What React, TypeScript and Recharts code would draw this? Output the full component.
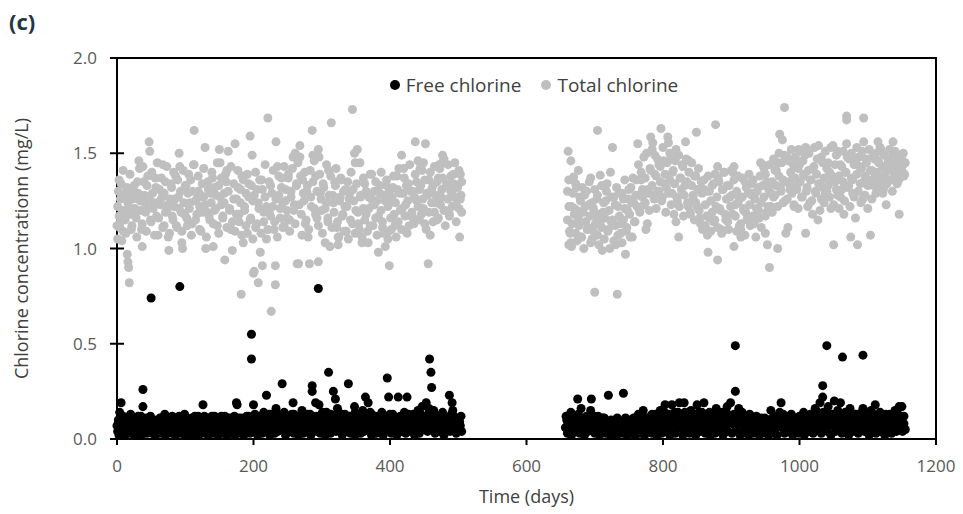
import {
  ScatterChart, Scatter, XAxis, YAxis, ZAxis, Legend, Label, ReferenceArea
} from 'recharts'

// [day, mg/L], first run (0–505 d) and second run (657–1155 d)
const freeChlorineA: [number, number][] = [
  [1,0.04],[2,0.10],[3,0.02],[4,0.14],[5,0.06],[6,0.19],[7,0.03],[8,0.08],[9,0.12],[10,0.05],[12,0.02],[13,0.09],[14,0.06],[16,0.11],[17,0.03],[19,0.07],[20,0.13],[22,0.04],[23,0.09],[25,0.02],[27,0.06],[28,0.11],[30,0.03],[31,0.08],[33,0.05],[35,0.12],[36,0.02],[38,0.26],[38,0.17],[39,0.07],[41,0.04],[42,0.10],[44,0.03],[46,0.08],[47,0.05],[49,0.12],[50,0.74],[51,0.03],[53,0.07],[55,0.10],[56,0.02],[58,0.06],[60,0.09],[61,0.04],[63,0.11],[65,0.03],[66,0.07],[68,0.05],[70,0.13],[71,0.02],[73,0.08],[75,0.04],[76,0.10],[78,0.06],[80,0.03],[81,0.12],[83,0.05],[85,0.08],[86,0.02],[88,0.11],[90,0.04],[92,0.80],[92,0.07],[94,0.03],[95,0.10],[97,0.05],[99,0.13],[100,0.02],
  [102,0.07],[104,0.04],[105,0.09],[107,0.06],[109,0.02],[110,0.11],[112,0.04],[114,0.08],[115,0.03],[117,0.06],[119,0.12],[120,0.02],[122,0.07],[124,0.04],[126,0.18],[127,0.09],[129,0.03],[131,0.06],[132,0.11],[134,0.02],[136,0.08],[137,0.05],[139,0.12],[141,0.03],[143,0.07],[144,0.10],[146,0.04],[148,0.02],[149,0.09],[151,0.06],[153,0.12],[154,0.03],[156,0.07],[158,0.04],[159,0.10],[161,0.02],[163,0.08],[165,0.05],[166,0.11],[168,0.03],[170,0.06],[172,0.09],[173,0.02],[175,0.19],[176,0.18],[177,0.05],[179,0.08],[181,0.03],[182,0.11],[184,0.06],[186,0.02],[188,0.09],[189,0.04],[191,0.07],[193,0.12],[195,0.03],[197,0.55],[197,0.42],[198,0.06],[200,0.18],
  [201,0.10],[203,0.04],[205,0.08],[206,0.02],[208,0.12],[210,0.05],[212,0.09],[213,0.03],[215,0.14],[217,0.06],[219,0.23],[219,0.11],[221,0.04],[222,0.08],[224,0.02],[226,0.13],[228,0.06],[229,0.10],[231,0.03],[233,0.16],[235,0.07],[236,0.04],[238,0.12],[240,0.09],[242,0.29],[243,0.05],[245,0.14],[247,0.02],[248,0.08],[250,0.11],[252,0.04],[254,0.07],[256,0.13],[258,0.19],[259,0.03],[261,0.09],[263,0.06],[264,0.12],[266,0.02],[268,0.08],[270,0.05],[271,0.15],[273,0.03],[275,0.10],[277,0.07],[279,0.13],[280,0.04],[282,0.09],[284,0.02],[286,0.28],[286,0.25],[287,0.06],[289,0.11],[291,0.19],[293,0.04],[295,0.79],[295,0.08],[296,0.18],[298,0.03],[300,0.12],
  [302,0.06],[303,0.10],[305,0.02],[307,0.14],[309,0.05],[310,0.35],[311,0.09],[313,0.03],[315,0.12],[317,0.25],[318,0.07],[320,0.21],[321,0.04],[323,0.16],[325,0.10],[326,0.06],[328,0.13],[330,0.02],[332,0.08],[334,0.11],[335,0.04],[337,0.07],[339,0.29],[340,0.12],[342,0.03],[344,0.09],[346,0.06],[348,0.17],[349,0.02],[351,0.10],[353,0.05],[355,0.13],[357,0.03],[358,0.08],[360,0.15],[362,0.04],[364,0.22],[366,0.11],[368,0.19],[369,0.06],[371,0.14],[373,0.02],[375,0.09],[377,0.05],[379,0.12],[380,0.03],[382,0.07],[384,0.10],[386,0.04],[388,0.14],[390,0.02],[392,0.08],[394,0.11],[396,0.32],[397,0.05],[398,0.22],[400,0.09],
  [402,0.03],[404,0.13],[406,0.06],[408,0.10],[410,0.02],[412,0.22],[413,0.07],[415,0.12],[417,0.04],[419,0.09],[421,0.14],[423,0.03],[425,0.22],[426,0.06],[428,0.11],[430,0.04],[432,0.08],[434,0.13],[436,0.02],[438,0.10],[440,0.06],[441,0.15],[443,0.03],[445,0.08],[447,0.17],[449,0.05],[451,0.11],[453,0.19],[455,0.04],[456,0.13],[458,0.42],[458,0.09],[460,0.35],[461,0.27],[462,0.06],[464,0.15],[466,0.03],[468,0.10],[469,0.07],[471,0.12],[473,0.04],[475,0.09],[477,0.14],[479,0.02],[481,0.06],[483,0.11],[485,0.08],[487,0.23],[488,0.04],[490,0.13],[491,0.19],[492,0.15],[494,0.06],[496,0.10],[497,0.03],[499,0.08],[501,0.05],[503,0.07],[505,0.04],
]

// more first-run free chlorine readings inside the dense 0.05–0.14 band
const freeChlorineA2: [number, number][] = [
  [0,0.07],[3,0.09],[6,0.05],[9,0.03],[11,0.08],[14,0.11],[17,0.06],[20,0.04],[22,0.10],[25,0.07],[28,0.05],[31,0.12],[34,0.06],[37,0.09],[40,0.05],[43,0.11],[46,0.04],[48,0.08],[52,0.10],[54,0.05],[57,0.09],[60,0.03],[62,0.07],[65,0.11],[68,0.08],[71,0.06],[74,0.10],[77,0.04],[80,0.09],[83,0.11],[86,0.06],[89,0.08],[91,0.12],[94,0.07],[97,0.09],[100,0.05],[103,0.11],[106,0.08],[108,0.05],[111,0.09],[114,0.12],[117,0.09],[120,0.06],[123,0.10],[126,0.05],[128,0.12],[131,0.09],[134,0.07],[137,0.10],[140,0.06],[143,0.12],[146,0.08],[149,0.05],[152,0.10],[155,0.07],[158,0.12],[160,0.06],[163,0.11],[166,0.08],[169,0.05],[172,0.12],[175,0.09],[178,0.11],[181,0.07],[184,0.10],[187,0.06],[190,0.12],[193,0.08],[196,0.10],[199,0.05],
  [202,0.13],[205,0.11],[208,0.07],[211,0.12],[214,0.09],[217,0.11],[220,0.07],[223,0.13],[226,0.09],[229,0.05],[232,0.11],[235,0.13],[238,0.08],[241,0.11],[244,0.07],[247,0.12],[250,0.06],[253,0.10],[256,0.08],[259,0.13],[262,0.11],[265,0.07],[268,0.12],[271,0.09],[274,0.06],[277,0.11],[280,0.08],[283,0.13],[286,0.10],[289,0.07],[292,0.12],[295,0.11],[298,0.09],[301,0.14],[304,0.08],[307,0.11],[310,0.06],[313,0.13],[316,0.09],[319,0.12],[322,0.08],[325,0.14],[328,0.10],[331,0.06],[334,0.13],[337,0.10],[340,0.07],[343,0.12],[346,0.10],[349,0.14],[352,0.08],[355,0.11],[358,0.13],[361,0.09],[364,0.12],[367,0.07],[370,0.10],[373,0.13],[376,0.08],[379,0.06],[382,0.11],[385,0.09],[388,0.07],[391,0.12],[394,0.06],[397,0.10],[400,0.13],
  [403,0.08],[406,0.11],[409,0.07],[412,0.10],[415,0.06],[418,0.12],[421,0.09],[424,0.07],[427,0.13],[430,0.10],[433,0.06],[436,0.12],[439,0.08],[442,0.11],[445,0.13],[448,0.09],[451,0.07],[454,0.12],[457,0.16],[460,0.10],[463,0.12],[466,0.08],[469,0.11],[472,0.07],[475,0.12],[478,0.09],[481,0.11],[484,0.06],[487,0.10],[490,0.08],[493,0.12],[496,0.07],[499,0.11],[502,0.09],[504,0.12],
]

const freeChlorineB: [number, number][] = [
  [657,0.06],[658,0.12],[660,0.03],[661,0.09],[663,0.05],[665,0.14],[666,0.02],[668,0.08],[670,0.11],[671,0.04],[673,0.07],[675,0.21],[676,0.13],[678,0.03],[680,0.16],[681,0.06],[683,0.10],[685,0.02],[686,0.08],[688,0.12],[690,0.04],[692,0.07],[694,0.15],[695,0.21],[697,0.05],[699,0.10],[700,0.03],[702,0.08],[704,0.06],[705,0.12],[707,0.02],[709,0.09],[711,0.04],[712,0.07],[714,0.11],[716,0.03],[718,0.06],[720,0.23],[721,0.09],[723,0.02],[725,0.05],[726,0.08],[728,0.04],[730,0.10],[732,0.02],[733,0.07],[735,0.05],[737,0.09],[739,0.03],[740,0.06],[742,0.24],[743,0.04],[745,0.08],[747,0.02],[749,0.05],[750,0.09],[752,0.03],[754,0.07],[756,0.04],[757,0.11],[759,0.02],
  [761,0.08],[763,0.05],[764,0.13],[766,0.03],[768,0.10],[770,0.06],[771,0.15],[773,0.02],[775,0.08],[777,0.11],[778,0.04],[780,0.07],[782,0.12],[784,0.03],[785,0.09],[787,0.06],[789,0.13],[791,0.02],[792,0.10],[794,0.05],[796,0.15],[798,0.03],[799,0.08],[801,0.11],[803,0.18],[804,0.04],[806,0.09],[808,0.13],[810,0.02],[811,0.07],[813,0.18],[815,0.05],[817,0.11],[818,0.03],[820,0.08],[822,0.14],[824,0.19],[825,0.06],[827,0.10],[829,0.02],[831,0.19],[832,0.09],[834,0.04],[836,0.12],[838,0.07],[839,0.03],[841,0.15],[843,0.10],[845,0.05],[846,0.13],[848,0.02],[850,0.18],[852,0.08],[853,0.11],[855,0.04],[857,0.14],[859,0.07],[860,0.19],
  [862,0.03],[864,0.10],[866,0.06],[867,0.13],[869,0.02],[871,0.09],[873,0.05],[874,0.12],[876,0.03],[878,0.16],[880,0.08],[881,0.04],[883,0.11],[885,0.06],[887,0.14],[888,0.02],[890,0.09],[892,0.07],[894,0.17],[895,0.04],[897,0.12],[899,0.19],[901,0.03],[902,0.08],[904,0.13],[906,0.49],[906,0.25],[907,0.05],[909,0.10],[911,0.16],[913,0.02],[915,0.08],[916,0.14],[918,0.04],[920,0.11],[922,0.06],[923,0.09],[925,0.02],[927,0.13],[929,0.05],[930,0.08],[932,0.03],[934,0.10],[936,0.06],[937,0.04],[939,0.09],[941,0.02],[943,0.07],[944,0.11],[946,0.04],[948,0.08],[950,0.03],[951,0.06],[953,0.10],[955,0.02],[957,0.07],[958,0.15],[960,0.04],
  [962,0.09],[964,0.05],[965,0.12],[967,0.02],[969,0.08],[971,0.14],[973,0.19],[974,0.06],[976,0.10],[978,0.03],[979,0.07],[981,0.12],[983,0.04],[985,0.09],[986,0.05],[988,0.11],[990,0.02],[992,0.07],[993,0.04],[995,0.09],[997,0.06],[999,0.03],[1000,0.10],[1002,0.05],[1004,0.08],[1006,0.14],[1007,0.02],[1009,0.11],[1011,0.06],[1013,0.09],[1014,0.04],[1016,0.13],[1018,0.07],[1020,0.03],[1021,0.10],[1023,0.16],[1025,0.05],[1027,0.12],[1028,0.08],[1030,0.19],[1032,0.03],[1034,0.28],[1034,0.22],[1035,0.14],[1037,0.06],[1039,0.11],[1040,0.49],[1041,0.04],[1042,0.17],[1044,0.09],[1046,0.02],[1048,0.13],[1049,0.07],[1051,0.20],[1053,0.04],[1055,0.10],[1056,0.15],[1058,0.06],[1060,0.19],
  [1062,0.03],[1063,0.43],[1063,0.12],[1065,0.08],[1067,0.14],[1069,0.05],[1070,0.10],[1072,0.02],[1074,0.16],[1076,0.07],[1077,0.11],[1079,0.04],[1081,0.09],[1083,0.13],[1084,0.06],[1086,0.03],[1088,0.10],[1090,0.07],[1091,0.14],[1093,0.44],[1093,0.16],[1095,0.04],[1097,0.09],[1098,0.12],[1100,0.06],[1102,0.02],[1104,0.10],[1105,0.15],[1107,0.05],[1109,0.08],[1111,0.18],[1112,0.03],[1114,0.11],[1116,0.07],[1118,0.14],[1119,0.04],[1121,0.09],[1123,0.12],[1125,0.02],[1126,0.07],[1128,0.10],[1130,0.05],[1132,0.13],[1133,0.08],[1135,0.03],[1137,0.11],[1139,0.06],[1140,0.15],[1142,0.04],[1144,0.09],[1146,0.17],[1147,0.07],[1149,0.12],[1150,0.17],[1151,0.04],[1153,0.08],[1155,0.05],
]

const freeChlorineB2: [number, number][] = [
  [659,0.10],[662,0.07],[664,0.11],[667,0.05],[670,0.09],[673,0.12],[676,0.07],[679,0.10],[682,0.05],[685,0.09],[688,0.07],[691,0.11],[694,0.06],[697,0.09],[700,0.12],[703,0.05],[706,0.10],[709,0.06],[712,0.11],[715,0.07],[718,0.09],[721,0.05],[724,0.10],[727,0.06],[730,0.08],[733,0.11],[736,0.06],[739,0.09],[742,0.05],[745,0.11],[748,0.07],[751,0.10],[754,0.05],[757,0.08],[760,0.11],[763,0.07],[766,0.10],[769,0.12],[772,0.08],[775,0.11],[778,0.06],[781,0.10],[784,0.13],[787,0.09],[790,0.11],[793,0.07],[796,0.12],[799,0.10],[802,0.14],[805,0.08],[808,0.11],[811,0.13],[814,0.09],[817,0.14],[820,0.11],[823,0.08],[826,0.13],[829,0.10],[832,0.14],[835,0.08],[838,0.12],[841,0.10],[844,0.13],[847,0.08],[850,0.11],[853,0.14],[856,0.09],[859,0.12],
  [862,0.08],[865,0.11],[868,0.14],[871,0.10],[874,0.07],[877,0.12],[880,0.13],[883,0.09],[886,0.11],[889,0.14],[892,0.10],[895,0.13],[898,0.09],[901,0.12],[904,0.10],[907,0.13],[910,0.08],[913,0.12],[916,0.10],[919,0.07],[922,0.12],[925,0.09],[928,0.11],[931,0.07],[934,0.10],[937,0.12],[940,0.08],[943,0.10],[946,0.06],[949,0.11],[952,0.08],[955,0.10],[958,0.06],[961,0.11],[964,0.09],[967,0.12],[970,0.07],[973,0.10],[976,0.13],[979,0.09],[982,0.11],[985,0.07],[988,0.13],[991,0.09],[994,0.11],[997,0.08],[1000,0.12],[1003,0.09],[1006,0.11],[1009,0.07],[1012,0.12],[1015,0.10],[1018,0.13],[1021,0.08],[1024,0.11],[1027,0.14],[1030,0.10],[1033,0.12],[1036,0.09],[1039,0.14],[1042,0.11],[1045,0.13],[1048,0.09],[1051,0.12],[1054,0.08],[1057,0.11],[1060,0.13],
  [1063,0.09],[1066,0.11],[1069,0.13],[1072,0.08],[1075,0.12],[1078,0.10],[1081,0.13],[1084,0.09],[1087,0.11],[1090,0.08],[1093,0.12],[1096,0.10],[1099,0.13],[1102,0.08],[1105,0.11],[1108,0.13],[1111,0.10],[1114,0.07],[1117,0.12],[1120,0.09],[1123,0.11],[1126,0.13],[1129,0.09],[1132,0.11],[1135,0.08],[1138,0.12],[1141,0.10],[1144,0.13],[1147,0.09],[1150,0.11],[1153,0.12],
]

const totalChlorineA: [number, number][] = [
  [1,1.22],[2,1.30],[3,1.17],[4,1.11],[5,1.26],[6,1.34],[7,1.04],[8,1.20],[9,1.09],[10,1.28],[12,1.15],[14,1.32],[15,0.97],[16,0.93],[16,1.24],[17,0.90],[18,0.82],[19,1.18],[20,1.27],[22,1.12],[24,1.30],[26,1.21],[28,1.16],[30,1.35],[32,1.46],[34,1.25],[36,1.10],[37,1.01],[38,1.43],[40,1.28],[42,1.19],[44,1.33],[46,1.22],[47,1.56],[48,1.51],[50,1.14],[52,1.29],[54,1.24],[56,1.37],[58,1.17],[60,1.07],[62,1.31],[64,1.23],[66,1.27],[67,1.44],[69,1.12],[71,1.35],[73,1.20],[75,1.06],[76,0.99],[78,1.26],[80,1.32],[82,1.15],[84,1.22],[86,1.38],[88,1.11],[90,1.27],[91,1.50],[92,1.43],[94,1.19],[95,1.03],[96,1.00],[98,1.24],[100,1.33],
  [102,1.16],[104,1.29],[106,1.21],[108,1.36],[110,1.13],[112,1.44],[113,1.62],[115,1.25],[117,1.18],[119,1.30],[121,1.22],[123,1.09],[125,1.34],[127,1.27],[129,1.53],[130,1.00],[132,1.19],[134,1.31],[136,1.15],[138,1.24],[140,1.37],[141,1.01],[143,1.20],[145,1.28],[147,1.12],[149,1.33],[150,1.52],[151,1.45],[153,1.23],[155,1.17],[157,1.29],[158,0.94],[160,1.35],[161,1.41],[163,1.51],[165,1.21],[167,1.10],[169,0.99],[171,1.26],[173,1.55],[175,1.18],[177,1.32],[179,1.14],[181,1.24],[182,0.76],[183,1.38],[185,1.03],[187,1.20],[189,1.29],[191,1.08],[193,1.34],[195,1.59],[196,1.16],[198,1.49],[199,1.25],[200,0.87],
  [201,0.88],[203,1.11],[205,1.31],[207,0.82],[208,1.21],[210,0.98],[212,1.36],[213,0.91],[215,1.14],[217,1.27],[219,1.05],[221,1.685],[223,1.19],[225,1.33],[226,0.67],[228,1.22],[230,1.10],[232,0.91],[232,0.81],[233,1.56],[235,1.43],[237,1.28],[239,1.16],[241,1.37],[243,1.24],[245,1.12],[247,1.31],[249,1.20],[251,1.39],[253,1.15],[255,1.27],[258,1.48],[260,1.23],[261,1.50],[263,1.33],[264,0.92],[266,0.92],[268,1.54],[268,1.48],[270,1.18],[272,1.36],[274,1.25],[276,1.13],[278,1.30],[280,1.06],[282,0.92],[284,1.27],[286,1.62],[287,1.49],[289,1.21],[291,1.38],[293,1.16],[295,1.52],[295,0.93],[296,1.48],[298,1.29],[300,1.20],
  [302,1.34],[305,1.03],[307,1.24],[309,1.14],[310,1.41],[312,1.01],[314,1.66],[316,1.28],[318,1.19],[320,1.33],[322,1.11],[324,1.06],[324,1.02],[326,1.25],[328,1.37],[330,1.17],[332,1.30],[334,1.22],[336,1.09],[338,1.35],[340,1.26],[342,1.15],[345,1.73],[346,1.31],[348,1.50],[349,1.45],[350,1.20],[352,1.52],[354,1.13],[356,1.45],[357,1.28],[359,1.03],[361,1.21],[363,1.34],[365,1.18],[368,1.03],[369,1.27],[371,1.12],[373,1.39],[375,1.23],[377,1.30],[379,1.16],[381,1.25],[383,0.98],[385,1.33],[387,1.20],[389,1.11],[391,1.28],[393,1.01],[395,1.36],[397,1.22],[398,1.09],[399,0.91],[401,1.26],
  [402,1.10],[404,1.32],[406,1.18],[408,1.24],[410,1.38],[412,1.14],[414,1.29],[417,1.49],[418,1.21],[420,1.42],[422,1.17],[424,1.33],[426,1.25],[428,1.12],[430,1.30],[432,1.19],[434,1.16],[436,1.27],[437,1.56],[439,1.35],[441,1.22],[443,1.31],[444,1.42],[446,1.18],[448,1.26],[449,1.45],[451,1.13],[452,1.55],[454,1.29],[456,0.92],[457,1.36],[459,1.07],[461,1.24],[463,1.33],[465,1.19],[467,1.28],[469,1.15],[471,1.37],[472,1.44],[474,1.23],[476,1.31],[477,1.49],[477,1.45],[479,1.20],[481,1.12],[483,1.34],[485,1.26],[487,1.17],[489,1.30],[491,1.22],[493,1.39],[495,1.27],[497,1.14],[499,1.33],[501,1.21],[502,1.06],[503,1.39],[504,1.28],[505,1.35],
]

// more first-run total chlorine readings across the 1.05–1.47 cloud
const totalChlorineA2: [number, number][] = [
  [0,1.12],[1,1.05],[3,1.36],[5,1.14],[7,1.28],[9,1.41],[11,1.18],[13,1.08],[15,1.31],[17,1.22],[19,1.39],[21,1.10],[23,1.26],[25,1.33],[27,1.17],[29,1.06],[31,1.29],[33,1.42],[35,1.20],[37,1.13],[39,1.35],[41,1.24],[43,1.09],[45,1.38],[47,1.27],[49,1.15],[51,1.40],[53,1.21],[55,1.07],[57,1.32],[59,1.45],[61,1.16],[63,1.25],[65,1.37],[67,1.11],[69,1.29],[71,1.19],[73,1.43],[75,1.23],[77,1.08],[79,1.34],[81,1.17],[83,1.40],[85,1.26],[87,1.12],[89,1.36],[91,1.21],[93,1.30],[95,1.09],[97,1.41],[99,1.18],
  [101,1.33],[103,1.12],[105,1.39],[107,1.24],[109,1.07],[111,1.30],[113,1.44],[115,1.15],[117,1.26],[119,1.38],[121,1.10],[123,1.28],[125,1.19],[127,1.42],[129,1.23],[131,1.06],[133,1.35],[135,1.17],[137,1.29],[139,1.40],[141,1.13],[143,1.32],[145,1.21],[147,1.45],[149,1.08],[151,1.27],[153,1.37],[155,1.16],[157,1.24],[159,1.39],[161,1.11],[163,1.30],[165,1.20],[167,1.43],[169,1.14],[171,1.34],[173,1.09],[175,1.26],[177,1.41],[179,1.18],[181,1.31],[183,1.07],[185,1.36],[187,1.22],[189,1.12],[191,1.39],[193,1.27],[195,1.15],[197,1.33],[199,1.05],
  [201,1.28],[203,1.40],[205,1.13],[207,1.24],[209,1.36],[211,1.08],[213,1.31],[215,1.19],[217,1.44],[219,1.22],[221,1.10],[223,1.35],[225,1.17],[227,1.29],[229,1.41],[231,1.14],[233,1.26],[235,1.06],[237,1.38],[239,1.21],[241,1.32],[243,1.11],[245,1.43],[247,1.25],[249,1.16],[251,1.37],[253,1.09],[255,1.30],[257,1.42],[259,1.20],[261,1.13],[263,1.34],[265,1.45],[267,1.23],[269,1.38],[271,1.07],[273,1.29],[275,1.40],[277,1.15],[279,1.33],[281,1.10],[283,1.41],[285,1.22],[287,1.35],[289,1.46],[291,1.18],[293,1.30],[295,1.12],[297,1.39],[299,1.26],
  [301,1.08],[303,1.32],[305,1.21],[307,1.44],[309,1.16],[311,1.28],[313,1.38],[315,1.11],[317,1.24],[319,1.35],[321,1.42],[323,1.14],[325,1.06],[327,1.27],[329,1.36],[331,1.18],[333,1.09],[335,1.31],[337,1.22],[339,1.05],[341,1.29],[343,1.40],[345,1.13],[347,1.25],[349,1.08],[351,1.34],[353,1.19],[355,1.10],[357,1.27],[359,1.06],[361,1.37],[363,1.15],[365,1.30],[367,1.09],[369,1.21],[371,1.39],[373,1.26],[375,1.12],[377,1.23],[379,1.35],[381,1.07],[383,1.17],[385,1.29],[387,1.40],[389,1.14],[391,1.08],[393,1.25],[395,1.33],[397,1.05],[399,1.30],
  [401,1.16],[403,1.27],[405,1.38],[407,1.12],[409,1.06],[411,1.31],[413,1.42],[415,1.20],[417,1.10],[419,1.29],[421,1.37],[423,1.23],[425,1.08],[427,1.34],[429,1.44],[431,1.17],[433,1.30],[435,1.13],[437,1.39],[439,1.25],[441,1.46],[443,1.15],[445,1.33],[447,1.41],[449,1.21],[451,1.36],[453,1.10],[455,1.28],[457,1.19],[459,1.40],[461,1.31],[463,1.14],[465,1.43],[467,1.24],[469,1.35],[471,1.16],[473,1.42],[475,1.27],[477,1.37],[479,1.47],[481,1.20],[483,1.33],[485,1.44],[487,1.18],[489,1.38],[491,1.29],[493,1.34],[495,1.45],[497,1.23],[499,1.32],[501,1.41],[503,1.26],[505,1.19],
]

const totalChlorineB: [number, number][] = [
  [660,1.15],[661,1.51],[662,1.02],[662,1.22],[663,1.09],[665,1.46],[665,1.03],[666,1.22],[667,1.13],[669,1.375],[670,1.18],[672,1.08],[673,1.32],[674,1.20],[676,1.41],[677,1.12],[679,1.25],[681,1.06],[683,1.19],[685,1.28],[687,1.14],[689,1.10],[691,1.23],[693,1.17],[694,1.37],[696,1.05],[698,1.21],[700,0.77],[701,1.13],[703,1.26],[704,1.62],[704,1.07],[706,1.18],[708,1.385],[710,1.11],[711,0.99],[713,1.24],[715,1.16],[717,1.30],[719,1.09],[721,1.20],[723,1.40],[724,1.14],[726,1.53],[728,1.27],[730,1.12],[731,1.02],[733,0.76],[734,1.22],[736,1.17],[738,1.08],[740,1.29],[742,1.15],[744,1.21],[745,0.97],[747,1.11],[749,1.26],[751,1.18],[753,1.32],[755,1.06],[757,1.24],[759,1.14],
  [761,1.36],[763,1.55],[764,1.28],[766,1.20],[768,1.40],[770,1.31],[772,1.23],[774,1.37],[775,1.10],[777,1.13],[779,1.29],[781,1.42],[782,1.585],[784,1.33],[785,1.555],[787,1.26],[788,1.49],[790,1.38],[792,1.30],[794,1.44],[796,1.35],[797,1.63],[799,1.27],[801,1.46],[803,1.39],[805,1.32],[807,1.585],[808,1.555],[810,1.36],[811,1.47],[813,1.29],[815,1.41],[817,1.34],[819,1.52],[819,1.14],[821,1.25],[823,1.49],[823,1.06],[825,1.37],[827,1.31],[829,1.43],[831,1.28],[833,1.56],[835,1.35],[837,1.22],[838,1.46],[840,1.18],[842,1.33],[844,1.27],[846,1.38],[848,1.24],[849,1.61],
  [851,1.31],[853,1.20],[855,1.13],[857,1.29],[858,1.10],[860,1.36],[862,1.23],[864,1.17],[865,1.07],[866,0.98],[868,1.30],[870,1.25],[872,1.19],[874,1.34],[876,1.15],[877,1.65],[879,1.27],[880,1.43],[880,0.94],[881,1.37],[883,1.21],[885,1.10],[887,1.31],[889,1.40],[891,1.18],[893,1.26],[895,1.14],[897,1.33],[899,1.22],[901,1.28],[902,1.40],[904,1.43],[904,1.01],[906,1.17],[908,1.30],[910,1.24],[912,1.12],[914,1.06],[914,1.10],[916,1.27],[918,1.20],[920,1.35],[921,1.19],[923,1.15],[925,1.29],[927,1.23],[929,1.34],[930,1.29],[932,1.17],[933,1.13],[935,1.26],[937,1.21],[939,1.32],[941,1.16],[943,1.45],[944,1.24],[946,1.44],[948,1.27],[950,1.39],[950,1.08],[952,1.19],[953,1.02],[955,1.31],[956,0.90],[958,1.22],[960,1.35],
  [962,1.27],[964,1.41],[966,1.33],[968,1.45],[968,1.00],[970,1.38],[971,1.60],[973,1.30],[975,1.57],[976,1.36],[978,1.74],[979,1.25],[980,1.08],[982,1.48],[983,1.11],[985,1.34],[987,1.40],[989,1.29],[991,1.44],[992,1.22],[994,1.37],[996,1.31],[998,1.42],[999,1.52],[1001,1.35],[1003,1.27],[1005,1.46],[1007,1.38],[1009,1.53],[1009,1.08],[1011,1.32],[1013,1.41],[1015,1.24],[1017,1.36],[1019,1.18],[1021,1.43],[1023,1.30],[1025,1.39],[1027,1.15],[1028,1.54],[1030,1.34],[1032,1.26],[1034,1.45],[1036,1.37],[1038,1.29],[1040,1.42],[1042,1.33],[1044,1.40],[1046,1.21],[1048,1.36],[1049,1.54],[1050,1.02],[1052,1.44],[1054,1.31],[1056,1.51],[1058,1.38],[1060,1.27],
  [1062,1.43],[1064,1.35],[1065,1.18],[1067,1.40],[1069,1.695],[1069,1.675],[1069,1.55],[1071,1.32],[1073,1.47],[1075,1.06],[1076,1.37],[1078,1.29],[1080,1.44],[1082,1.16],[1084,1.39],[1085,1.02],[1087,1.48],[1089,1.34],[1091,1.42],[1093,1.26],[1094,1.685],[1094,1.56],[1096,1.38],[1098,1.45],[1100,1.21],[1102,1.36],[1104,1.07],[1106,1.41],[1108,1.33],[1110,1.47],[1112,1.29],[1114,1.40],[1115,1.56],[1115,1.46],[1117,1.35],[1119,1.52],[1121,1.43],[1123,1.31],[1125,1.38],[1127,1.23],[1129,1.44],[1130,1.46],[1132,1.36],[1134,1.41],[1136,1.30],[1137,1.56],[1139,1.45],[1141,1.39],[1143,1.34],[1145,1.43],[1146,1.18],[1147,1.37],[1149,1.475],[1150,1.41],[1152,1.44],[1153,1.38],[1155,1.45],
]

const totalChlorineB2: [number, number][] = [
  [660,1.30],[662,1.36],[664,1.08],[666,1.01],[668,1.29],[670,1.21],[672,1.34],[674,1.04],[676,1.16],[678,1.27],[680,1.06],[682,1.32],[684,1.00],[686,1.22],[688,1.30],[690,1.11],[692,1.35],[694,1.03],[696,1.24],[698,1.09],[700,1.31],[702,1.17],[704,1.28],[706,1.02],[708,1.14],[710,1.33],[712,1.19],[714,1.05],[716,1.25],[718,1.34],[720,1.10],[722,1.00],[724,1.27],[726,1.15],[728,1.04],[730,1.23],[732,1.32],[734,1.07],[736,1.29],[738,1.13],[740,1.03],[742,1.26],[744,1.36],[746,1.09],[748,1.20],[750,1.31],[752,1.06],[754,1.24],[756,1.37],[758,1.14],[760,1.28],
  [762,1.22],[764,1.44],[766,1.19],[768,1.36],[770,1.27],[772,1.48],[774,1.24],[776,1.50],[778,1.31],[780,1.20],[782,1.41],[784,1.52],[786,1.28],[788,1.39],[790,1.21],[792,1.47],[794,1.30],[796,1.43],[798,1.25],[800,1.53],[802,1.34],[804,1.19],[806,1.45],[808,1.29],[810,1.50],[812,1.23],[814,1.40],[816,1.18],[818,1.46],[820,1.27],[822,1.49],[824,1.22],[826,1.37],[828,1.44],[830,1.17],[832,1.33],[834,1.47],[836,1.24],[838,1.40],[840,1.19],[842,1.45],[844,1.28],[846,1.15],[848,1.38],[850,1.22],[852,1.42],[854,1.16],[856,1.35],[858,1.12],[860,1.31],
  [862,1.12],[864,1.30],[866,1.38],[868,1.16],[870,1.09],[872,1.33],[874,1.14],[876,1.39],[878,1.22],[880,1.11],[882,1.35],[884,1.20],[886,1.08],[888,1.31],[890,1.40],[892,1.15],[894,1.33],[896,1.10],[898,1.27],[900,1.41],[902,1.18],[904,1.36],[906,1.23],[908,1.09],[910,1.38],[912,1.26],[914,1.13],[916,1.37],[918,1.21],[920,1.07],[922,1.32],[924,1.17],[926,1.39],[928,1.12],[930,1.28],[932,1.36],[934,1.14],[936,1.06],[938,1.30],[940,1.20],[942,1.38],[944,1.11],[946,1.33],[948,1.42],[950,1.17],[952,1.35],[954,1.22],[956,1.44],[958,1.29],[960,1.19],
  [962,1.47],[964,1.28],[966,1.41],[968,1.22],[970,1.50],[972,1.32],[974,1.45],[976,1.24],[978,1.49],[980,1.35],[982,1.26],[984,1.46],[986,1.31],[988,1.52],[990,1.37],[992,1.23],[994,1.48],[996,1.33],[998,1.21],[1000,1.44],[1002,1.51],[1004,1.27],[1006,1.39],[1008,1.49],[1010,1.30],[1012,1.22],[1014,1.50],[1016,1.36],[1018,1.25],[1020,1.42],[1022,1.53],[1024,1.29],[1026,1.47],[1028,1.34],[1030,1.20],[1032,1.48],[1034,1.32],[1036,1.24],[1038,1.51],[1040,1.30],[1042,1.45],[1044,1.27],[1046,1.53],[1048,1.38],[1050,1.23],[1052,1.35],[1054,1.49],[1056,1.28],[1058,1.21],[1060,1.44],
  [1062,1.31],[1064,1.51],[1066,1.25],[1068,1.40],[1070,1.48],[1072,1.33],[1074,1.22],[1076,1.50],[1078,1.36],[1080,1.27],[1082,1.46],[1084,1.53],[1086,1.30],[1088,1.43],[1090,1.24],[1092,1.51],[1094,1.35],[1096,1.28],[1098,1.47],[1100,1.33],[1102,1.52],[1104,1.41],[1106,1.26],[1108,1.49],[1110,1.37],[1112,1.50],[1114,1.31],[1116,1.45],[1118,1.53],[1120,1.38],[1122,1.29],[1124,1.49],[1126,1.42],[1128,1.34],[1130,1.47],[1132,1.52],[1134,1.36],[1136,1.48],[1138,1.40],[1140,1.51],[1142,1.44],[1144,1.35],[1146,1.49],[1148,1.41],[1150,1.46],[1152,1.50],[1154,1.39],
]

const xTicks = [0, 200, 400, 600, 800, 1000, 1200]
const yTicks = [0, 0.5, 1.0, 1.5, 2.0]

const FONT = '"Open Sans", "Noto Sans", sans-serif'
const Y_TICK_SIZE = 7
const Y_TICK_MARGIN = 13

const toPoints = (rows: [number, number][]) => rows.map(([day, value]) => ({ day, value }))
const freeData = toPoints([...freeChlorineA, ...freeChlorineA2, ...freeChlorineB, ...freeChlorineB2])
const totalData = toPoints([...totalChlorineA, ...totalChlorineA2, ...totalChlorineB, ...totalChlorineB2])

// y ticks cross the axis line in the original, so draw both halves here
function YTick({ x, y, payload }: any) {
  const ax = x + Y_TICK_SIZE + Y_TICK_MARGIN
  return (
    <g>
      <line x1={ax - 7} x2={ax + 7} y1={y} y2={y} stroke="#000" strokeWidth={2} />
      <text x={x} y={y} dy={6} textAnchor="end" fill="#595959" fontSize={17} fontFamily={FONT}>
        {Number(payload.value).toFixed(1)}
      </text>
    </g>
  )
}

function LegendContent({ payload }: any) {
  return (
    <div style={{ display: 'flex', justifyContent: 'center', gap: 20, fontFamily: FONT, fontSize: 19, color: '#404040' }}>
      {(payload || []).map((entry: any) => (
        <div key={entry.value} style={{ display: 'flex', alignItems: 'center', gap: 6 }}>
          <span style={{ width: 10, height: 10, borderRadius: 5, background: entry.color, display: 'inline-block' }} />
          <span>{entry.value}</span>
        </div>
      ))}
    </div>
  )
}

export default function App() {
  return (
    <div style={{ position: 'absolute', left: 0, top: 0, width: 963, height: 514, background: '#fff' }}>
      <div
        style={{
          position: 'absolute', left: 9, top: 6, fontFamily: FONT, fontWeight: 700,
          fontSize: 22, color: '#243447',
        }}
      >
        (c)
      </div>
      <ScatterChart width={963} height={514} margin={{ top: 58, right: 27, bottom: 0, left: 0 }}>
        <XAxis
          type="number"
          dataKey="day"
          domain={[0, 1200]}
          ticks={xTicks}
          height={75}
          axisLine={{ stroke: '#000', strokeWidth: 2 }}
          tickLine={{ stroke: '#000', strokeWidth: 2 }}
          tickSize={6}
          tickMargin={15}
          tick={{ fill: '#595959', fontSize: 17, fontFamily: FONT }}
        >
          <Label value="Time (days)" position="insideBottom" offset={11} fill="#404040" fontSize={18} fontFamily={FONT} />
        </XAxis>
        <YAxis
          type="number"
          dataKey="value"
          domain={[0, 2]}
          ticks={yTicks}
          width={117}
          axisLine={{ stroke: '#000', strokeWidth: 2 }}
          tickLine={false}
          tickSize={Y_TICK_SIZE}
          tickMargin={Y_TICK_MARGIN}
          tick={<YTick />}
        >
          <Label
            value="Chlorine concentrationn (mg/L)"
            angle={-90}
            position="insideLeft"
            offset={22}
            fill="#404040"
            fontSize={18}
            fontFamily={FONT}
            style={{ textAnchor: 'middle' }}
          />
        </YAxis>
        <ZAxis range={[78, 78]} />
        <ReferenceArea x1={0} x2={1200} y1={0} y2={2} fill="none" stroke="#000" strokeWidth={2} />
        {/* middle alignment keeps the legend from pushing the plot down */}
        <Legend
          verticalAlign="middle"
          content={<LegendContent />}
          wrapperStyle={{ top: 72, left: 134, width: 800 }}
        />
        <Scatter name="Free chlorine" data={freeData} fill="#000000" shape="circle" isAnimationActive={false} />
        <Scatter name="Total chlorine" data={totalData} fill="#bfbfbf" shape="circle" isAnimationActive={false} />
      </ScatterChart>
    </div>
  )
}
